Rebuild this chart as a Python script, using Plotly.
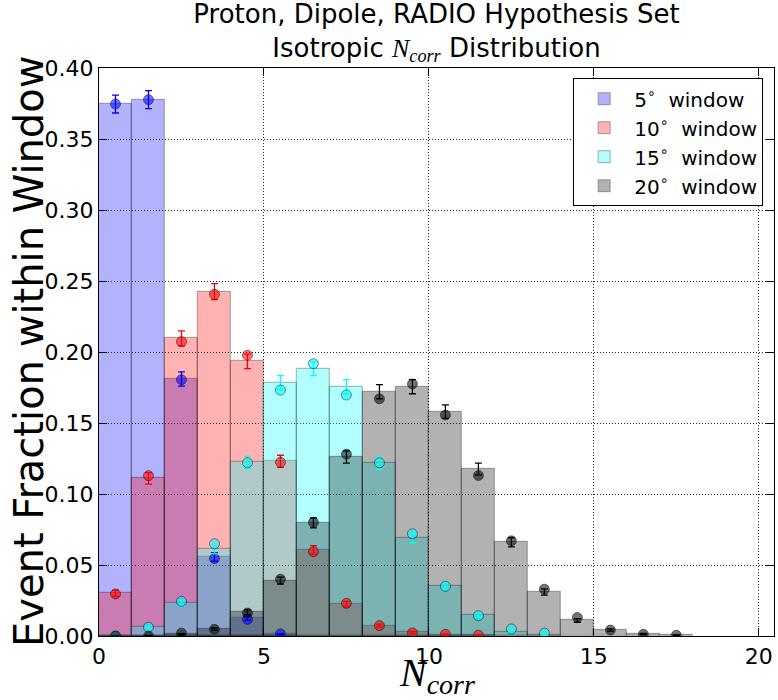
import plotly.graph_objects as go

# ---------------- data ----------------
labels = ["5<sup>∘</sup>\u00a0 window", "10<sup>∘</sup>\u00a0 window",
          "15<sup>∘</sup>\u00a0 window", "20<sup>∘</sup>\u00a0 window"]

bars_5 = [0.3746, 0.3777, 0.181, 0.0557, 0.0125, 0.0012]
bars_10 = [0.0300, 0.111, 0.2096, 0.2425, 0.1934, 0.123, 0.0606, 0.0225,
           0.0073, 0.0026, 0.001, 0.0005]
bars_15 = [0.0002, 0.006, 0.023, 0.061, 0.1223, 0.1784, 0.1883, 0.1756,
           0.1216, 0.0688, 0.035, 0.0148, 0.003, 0.001]
bars_20 = [0.0, 0.0003, 0.0012, 0.005, 0.0167, 0.039, 0.0796, 0.126, 0.172,
           0.1756, 0.158, 0.1176, 0.066, 0.031, 0.011, 0.0042, 0.0014, 0.0005]

err_5 = [0.0063, 0.0063, 0.005, 0.003, 0.0014, 0.0004]
err_10 = [0.0022, 0.004, 0.0053, 0.0056, 0.0051, 0.0043, 0.003, 0.0019,
          0.0011, 0.0007, 0.0004, 0.0003]
err_15 = [0.0001, 0.001, 0.002, 0.003, 0.0043, 0.005, 0.005, 0.005, 0.0043,
          0.0033, 0.0024, 0.0015, 0.0007, 0.0004]
err_20 = [0.0001, 0.0002, 0.0004, 0.0009, 0.0017, 0.0025, 0.0035, 0.0043,
          0.005, 0.005, 0.0047, 0.0042, 0.0032, 0.0022, 0.0013, 0.0008,
          0.0005, 0.0003]

pts_5 = [0.3746, 0.3777, 0.1805, 0.0545, 0.0117, 0.0015]
pts_10 = [0.0296, 0.1129, 0.2073, 0.2406, 0.1977, 0.1223, 0.0594, 0.023,
          0.0073, 0.0022, 0.0012, 0.0006]
pts_15 = [0.0, 0.0062, 0.0244, 0.065, 0.122, 0.1732, 0.1918, 0.1697, 0.122,
          0.072, 0.035, 0.0143, 0.005, 0.002]
pts_20 = [0.0, 0.0, 0.002, 0.0047, 0.0162, 0.040, 0.0800, 0.128, 0.167,
          0.1775, 0.1556, 0.113, 0.067, 0.033, 0.013, 0.0042, 0.0012, 0.0005]

x_ticks = [0, 5, 10, 15, 20]
y_ticks = [0.00, 0.05, 0.10, 0.15, 0.20, 0.25, 0.30, 0.35, 0.40]

series = [
    (labels[0], bars_5, err_5, pts_5, (0, 0, 255)),
    (labels[1], bars_10, err_10, pts_10, (255, 0, 0)),
    (labels[2], bars_15, err_15, pts_15, (0, 255, 255)),
    (labels[3], bars_20, err_20, pts_20, (0, 0, 0)),
]

fig = go.Figure()

def rgba(c, a):
    return f"rgba({c[0]},{c[1]},{c[2]},{a})"

# histogram bars
for name, bars, err, pts, col in series:
    xs = [i + 0.5 for i in range(len(bars))]
    fig.add_trace(go.Bar(
        x=xs, y=bars, width=1.0, name=name,
        marker=dict(color=rgba(col, 0.3),
                    line=dict(color="rgba(0,0,0,0.25)", width=1.3)),
        showlegend=True,
    ))

# error bars and points
for name, bars, err, pts, col in series:
    xs = [i + 0.5 for i in range(len(bars))]
    fig.add_trace(go.Scatter(
        x=xs, y=bars, mode="markers",
        marker=dict(size=1, color="rgba(0,0,0,0)"),
        error_y=dict(type="data", array=err, visible=True,
                     color=rgba(col, 1), thickness=1.3, width=3.5),
        showlegend=False, hoverinfo="skip",
    ))
    xp = [i + 0.5 for i in range(len(pts))]
    fig.add_trace(go.Scatter(
        x=xp, y=pts, mode="markers",
        marker=dict(size=10, color=rgba(col, 0.55),
                    line=dict(color="rgba(0,0,0,0.45)", width=1)),
        showlegend=False,
    ))

grid_style = dict(showgrid=True, gridcolor="rgba(0,0,0,0.85)",
                  griddash="1px,2px", gridwidth=1)

fig.update_layout(
    width=778, height=700,
    barmode="overlay",
    bargap=0,
    plot_bgcolor="white", paper_bgcolor="white",
    margin=dict(l=99, r=4, t=68, b=64, autoexpand=False),
    font=dict(family="DejaVu Sans", color="black", size=22),
    title=dict(
        text="Proton, Dipole, RADIO Hypothesis Set<br>Isotropic "
             "<span style='font-family:Liberation Serif'><i>N</i><sub><i>corr</i></sub></span>"
             " Distribution",
        x=0.5, xref="paper", y=0.967, yref="container", yanchor="top",
        font=dict(family="DejaVu Sans", size=26, color="black"),
    ),
    legend=dict(
        x=0.984, xanchor="right", y=0.982, yanchor="top",
        bgcolor="white", bordercolor="black", borderwidth=1,
        font=dict(family="DejaVu Sans", size=20),
        traceorder="normal", itemwidth=50,
    ),
    xaxis=dict(
        range=[0, 20.46], tickvals=x_ticks, ticktext=[str(v) for v in x_ticks],
        showline=True, linecolor="black", linewidth=1.3, mirror="allticks",
        ticks="inside", ticklen=8, tickcolor="black", automargin=False,
        zeroline=False, tickfont=dict(size=22), **grid_style,
    ),
    yaxis=dict(
        range=[0, 0.40], tickvals=y_ticks, ticktext=[f"{v:.2f}" for v in y_ticks],
        showline=True, linecolor="black", linewidth=1.3, mirror="allticks",
        ticks="inside", ticklen=8, tickcolor="black", automargin=False,
        zeroline=False, tickfont=dict(size=22), **grid_style,
    ),
    annotations=[
        dict(text="Event Fraction within Window", textangle=-90,
             xref="paper", yref="paper", x=(29 - 99) / 675, y=0.5,
             xanchor="center", yanchor="middle", showarrow=False,
             font=dict(family="DejaVu Sans", size=40)),
        dict(text="<i>N</i><sub><i>corr</i></sub>",
             xref="paper", yref="paper", x=0.5, y=-(700 - 636 + 2) / 568,
             xanchor="center", yanchor="bottom", showarrow=False,
             font=dict(family="Liberation Serif", size=40)),
    ],
)

fig.write_html("out.html",
               config={"displayModeBar": False},
               post_script="document.body.style.margin='0';"
                           "document.body.style.overflow='hidden';")
